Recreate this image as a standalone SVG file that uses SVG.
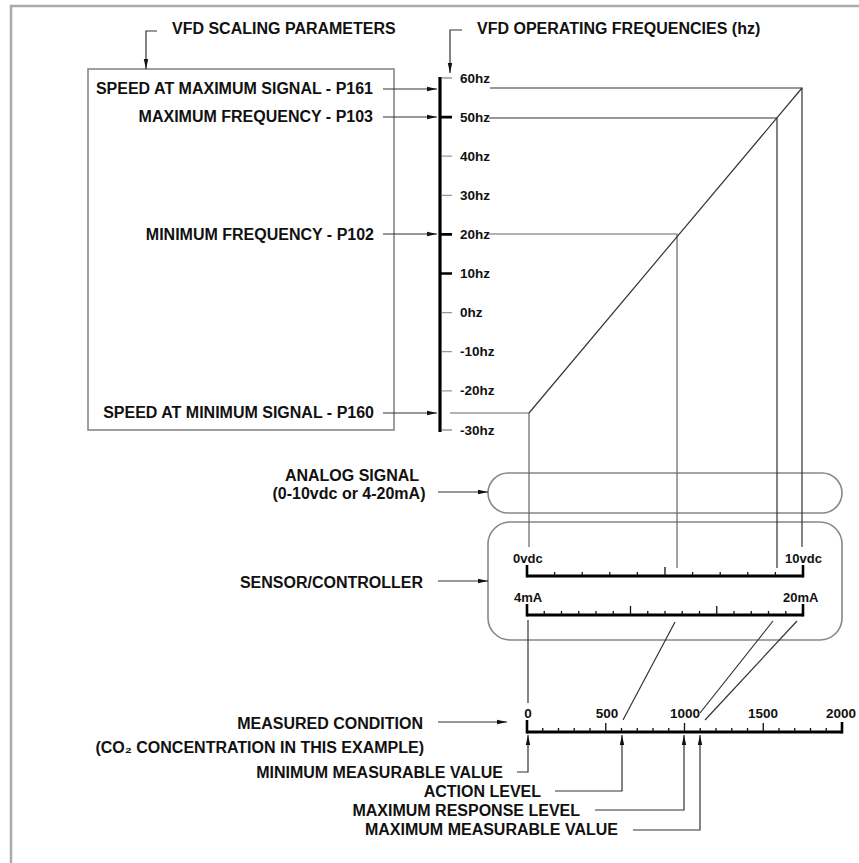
<svg xmlns="http://www.w3.org/2000/svg" width="859" height="863" viewBox="0 0 859 863">
<style>
text{font-family:"Liberation Sans",Arial,sans-serif;font-weight:bold;fill:#111}
.lbl{font-size:16px}
.sm{font-size:13.5px}
.xs{font-size:13px}
.r{text-anchor:end}
.m{text-anchor:middle}
.ln{stroke:#333;stroke-width:1.2;fill:none}
.gl{stroke:#666;stroke-width:1.2;fill:none}
.box{stroke:#888;stroke-width:1.6;fill:none}
.ax{stroke:#000;stroke-width:3.2;fill:none}
.tk{stroke:#000;stroke-width:2.6;fill:none}
.tm{stroke:#999;stroke-width:1.3;fill:none}
.st{stroke:#111;stroke-width:1.3;fill:none}
.arr{stroke:#333;stroke-width:1.2;fill:none;marker-end:url(#ah)}
.frame{stroke:#aaa;stroke-width:2.5;fill:none}
</style>
<defs>
<marker id="ah" markerWidth="10" markerHeight="6" refX="10" refY="3" orient="auto" markerUnits="userSpaceOnUse"><path d="M0,0.8 L10,3 L0,5.2 z" fill="#111"/></marker>
</defs>
<path class="frame" d="M11,863 V6 H859"/>

<g id="hdr-scaling"><text class="lbl" x="172" y="34">VFD SCALING PARAMETERS</text></g>
<g id="hdr-freq"><text class="lbl" x="477" y="34">VFD OPERATING FREQUENCIES (hz)</text></g>

<g id="param-box">
<rect class="box" x="88" y="69" width="306" height="361"/>
<text class="lbl r" x="373" y="94">SPEED AT MAXIMUM SIGNAL - P161</text>
<text class="lbl r" x="373" y="122">MAXIMUM FREQUENCY - P103</text>
<text class="lbl r" x="374" y="240">MINIMUM FREQUENCY - P102</text>
<text class="lbl r" x="374" y="418">SPEED AT MINIMUM SIGNAL - P160</text>
</g>

<g id="freq-axis">
<line class="ax" x1="440" y1="77" x2="440" y2="432"/>
<path class="tm" d="M442,78H452 M442,156.2H452 M442,195.3H452 M442,312.6H452 M442,351.7H452 M442,390.8H452 M442,430H452"/>
<path class="tk" d="M440,117.1H452 M440,234.4H452 M440,273.5H452"/>
<text class="sm" x="460" y="83">60hz</text>
<text class="sm" x="460" y="122">50hz</text>
<text class="sm" x="460" y="161">40hz</text>
<text class="sm" x="460" y="200">30hz</text>
<text class="sm" x="460" y="239">20hz</text>
<text class="sm" x="460" y="278">10hz</text>
<text class="sm" x="460" y="317">0hz</text>
<text class="sm" x="460" y="356">-10hz</text>
<text class="sm" x="460" y="395">-20hz</text>
<text class="sm" x="460" y="435">-30hz</text>
</g>

<g id="analog-signal">
<rect class="box" x="488" y="473" width="354" height="40" rx="20" ry="20"/>
<text class="lbl m" x="352" y="481">ANALOG SIGNAL</text>
<text class="lbl m" x="349" y="499">(0-10vdc or 4-20mA)</text>
</g>

<g id="sensor-controller">
<rect class="box" x="488" y="522" width="354" height="118" rx="22" ry="22"/>
<text class="lbl r" x="423" y="588">SENSOR/CONTROLLER</text>
<text class="xs" x="513" y="563">0vdc</text>
<text class="xs" x="785" y="563">10vdc</text>
<line class="ax" x1="527" y1="576" x2="803" y2="576"/>
<path class="tk" d="M527,577.5V565 M803,577.5V565"/>
<path class="st" d="M554.6,576V572 M582.2,576V572 M609.8,576V572 M637.4,576V572 M665,576V567 M692.6,576V572 M720.2,576V572 M747.8,576V572 M775.4,576V572"/>
<text class="xs" x="514" y="602">4mA</text>
<text class="xs" x="783" y="602">20mA</text>
<line class="ax" x1="527" y1="615" x2="803" y2="615"/>
<path class="tk" d="M527,616.5V604 M803,616.5V604"/>
<path class="st" d="M544.25,615V611 M561.5,615V611 M578.75,615V611 M596,615V611 M613.25,615V611 M630.5,615V606 M647.75,615V611 M665,615V611 M682.25,615V611 M699.5,615V611 M716.75,615V606 M734,615V611 M751.25,615V611 M768.5,615V611 M785.75,615V611"/>
</g>

<g id="measured-condition">
<text class="lbl r" x="423" y="729">MEASURED CONDITION</text>
<text class="lbl r" x="424" y="753">(CO₂ CONCENTRATION IN THIS EXAMPLE)</text>
<text class="sm m" x="528" y="718">0</text>
<text class="sm m" x="607" y="718">500</text>
<text class="sm m" x="685" y="718">1000</text>
<text class="sm m" x="763" y="718">1500</text>
<text class="sm m" x="841" y="718">2000</text>
<line class="ax" x1="527" y1="732" x2="842" y2="732"/>
<path class="tk" d="M527,733.5V720 M842,733.5V722"/>
<path class="st" d="M542.75,732V728 M558.5,732V728 M574.25,732V728 M590,732V728 M605.75,732V723 M621.5,732V728 M637.25,732V728 M653,732V728 M668.75,732V728 M684.5,732V723 M700.25,732V728 M716,732V728 M731.75,732V728 M747.5,732V728 M763.25,732V723 M779,732V728 M794.75,732V728 M810.5,732V728 M826.25,732V728"/>
</g>

<g id="lbl-min-meas"><text class="lbl r" x="503" y="778">MINIMUM MEASURABLE VALUE</text></g>
<g id="lbl-action"><text class="lbl r" x="541" y="797">ACTION LEVEL</text></g>
<g id="lbl-max-resp"><text class="lbl r" x="580" y="816">MAXIMUM RESPONSE LEVEL</text></g>
<g id="lbl-max-meas"><text class="lbl r" x="618" y="835">MAXIMUM MEASURABLE VALUE</text></g>

<g id="connectors">
<path class="arr" d="M157,31 H146 V69"/>
<path class="arr" d="M462,30 H450 V73"/>
<path class="arr" d="M383,89 H437"/>
<path class="arr" d="M383,117 H437"/>
<path class="arr" d="M383,234 H437"/>
<path class="arr" d="M383,413 H437"/>
<path class="ln" d="M490,88 H802 V547"/>
<path class="ln" d="M489,118 H777 V568"/>
<path class="gl" d="M488,234 H677 V568"/>
<path class="gl" d="M450,413 H529 V547"/>
<path class="ln" d="M529,413 L802,88"/>
<path class="arr" d="M438,492 H488"/>
<path class="arr" d="M438,581 H488"/>
<path class="ln" d="M528,620 V703"/>
<path class="ln" d="M675,622 L623,720"/>
<path class="ln" d="M773,621 L700,713"/>
<path class="ln" d="M797,621 L705,720"/>
<path class="arr" d="M438,722 H507"/>
<path class="arr" d="M517,772 H528 V735"/>
<path class="arr" d="M555,791 H622 V735"/>
<path class="arr" d="M595,810 H684 V735"/>
<path class="arr" d="M633,830 H700 V735"/>
</g>
</svg>
